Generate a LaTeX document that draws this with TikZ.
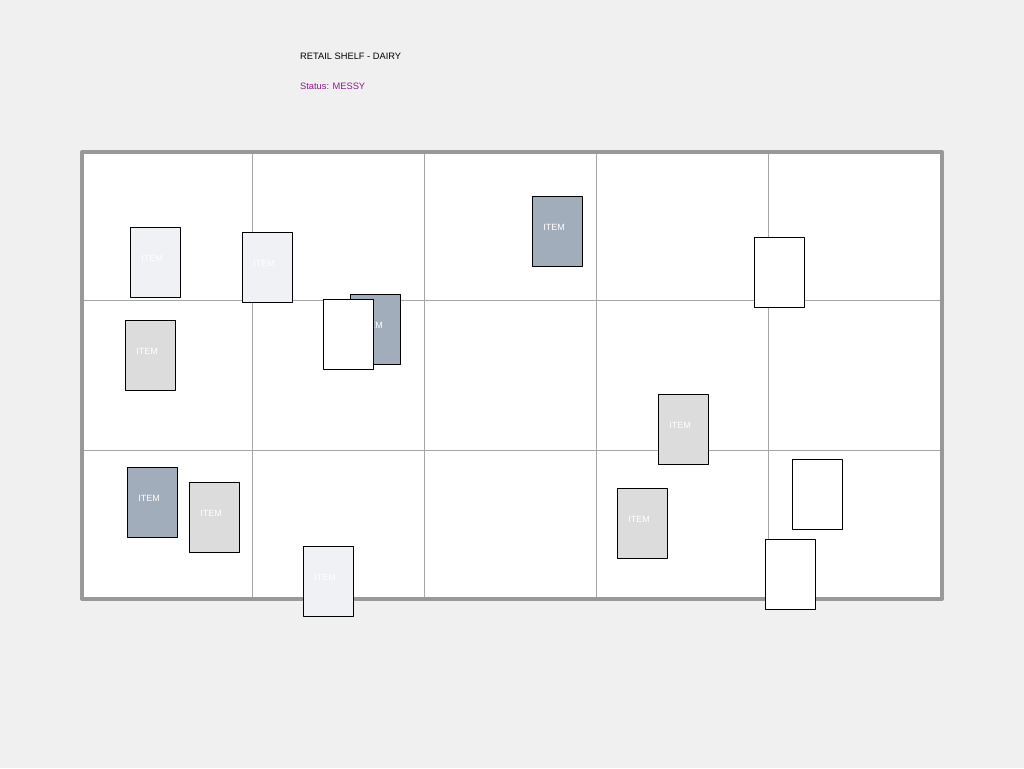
\documentclass[tikz,border=0pt]{standalone}
\usepackage{fontspec}
\setmainfont{Liberation Sans}
\definecolor{pagebg}{HTML}{F0F0F0}
\definecolor{shelfgray}{HTML}{999999}
\definecolor{dividergray}{HTML}{A6A6A6}
\definecolor{statuspurple}{HTML}{8B1A8B}
\definecolor{itemlight}{HTML}{F0F1F5}
\definecolor{itemgray}{HTML}{DCDCDC}
\definecolor{itemslate}{HTML}{A2ADBB}
\tikzset{
  itembox/.style={draw=black, line width=1pt, minimum width=50pt, minimum height=70pt, inner sep=0pt},
  itemtext/.style={text=white, font=\fontsize{9}{10}\selectfont, shift={(-3,-4)}}
}
\begin{document}
\begin{tikzpicture}[x=1pt, y=-1pt, font=\fontsize{9.3}{11}\selectfont, line join=round]
  \fill[pagebg] (0,0) rectangle (1024,768);
  \useasboundingbox (0,0) rectangle (1024,768);
  % heading
  \node[anchor=west, inner sep=0pt] (title) at (300,56) {RETAIL SHELF - DAIRY};
  \node[anchor=west, inner sep=0pt, text=statuspurple] (status) at (300,86) {Status: MESSY};
  % shelf with its compartments
  \fill[white] (82,152) rectangle (942,599);
  \foreach\x in{252,424,596,768}{\draw[dividergray, line width=1pt](\x,152)--(\x,599);}
  \foreach\y in{300,450}{\draw[dividergray, line width=1pt](82,\y)--(942,\y);}
  \draw[shelfgray, line width=4pt] (82,152) rectangle (942,599);
  % products, in stacking order
  \foreach\n/\cx/\cy/\c in{1/155/262/itemlight, 2/267/267/itemlight, 3/557/231/itemslate,
      5/150/355/itemgray, 6/375/329/itemslate}
    {\node[itembox, fill=\c, label={[itemtext]center:ITEM}] (item\n) at (\cx,\cy) {};}
  \node[itembox, fill=white] (item4) at (779,272) {};
  \node[itembox, fill=white] (item7) at (348,334) {};
  \foreach\n/\cx/\cy/\c in{8/683/429/itemgray, 9/152/502/itemslate, 10/214/517/itemgray,
      11/328/581/itemlight, 12/642/523/itemgray}
    {\node[itembox, fill=\c, label={[itemtext]center:ITEM}] (item\n) at (\cx,\cy) {};}
  \node[itembox, fill=white] (item13) at (817,494) {};
  \node[itembox, fill=white] (item14) at (790,574) {};
\end{tikzpicture}
\end{document}
